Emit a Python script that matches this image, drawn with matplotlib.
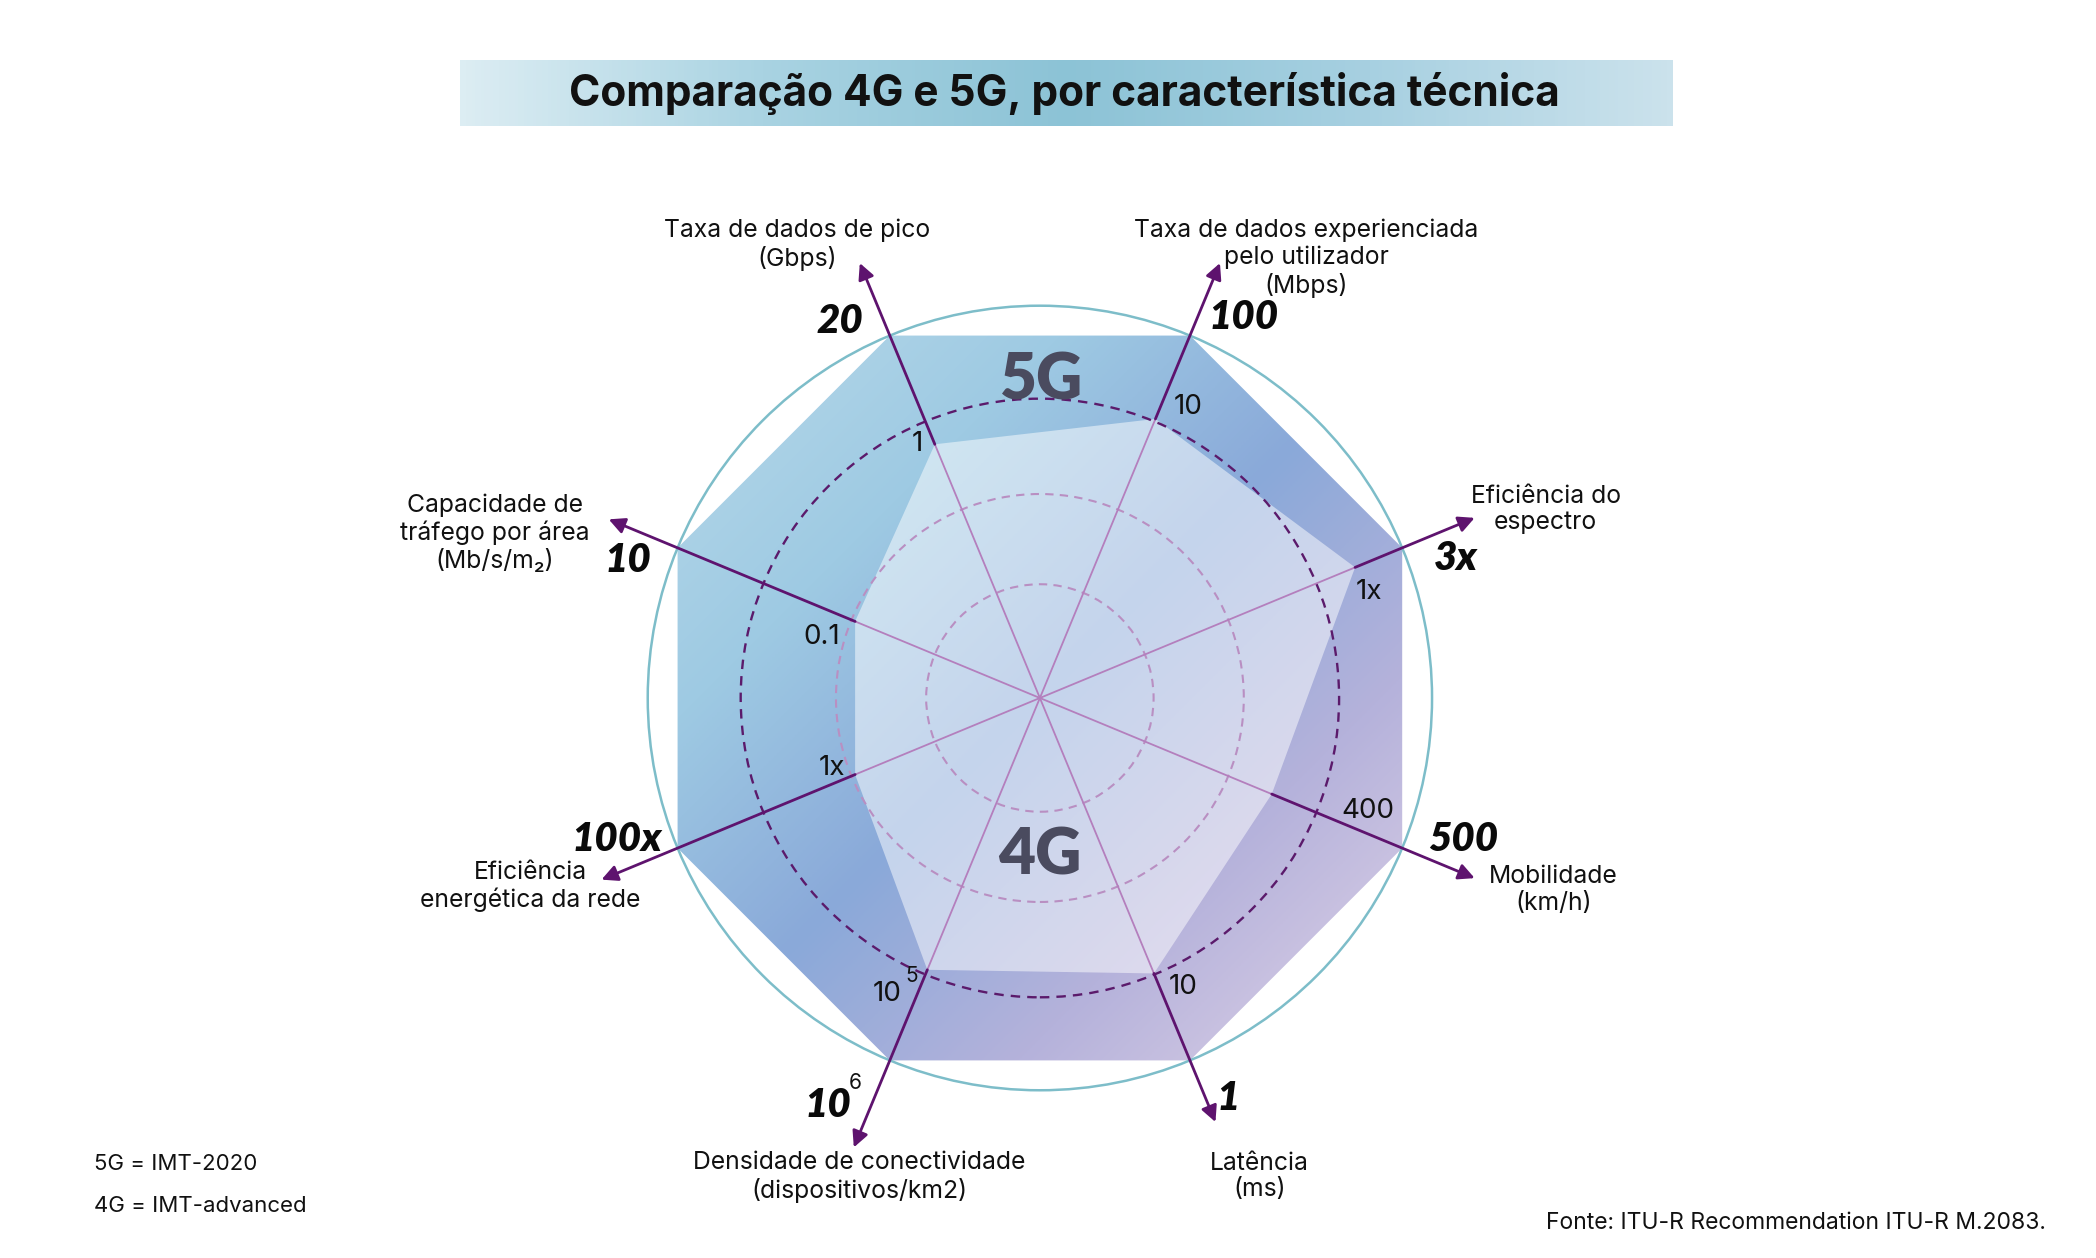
import numpy as np
import matplotlib.pyplot as plt
from matplotlib.patches import Polygon, Circle
from matplotlib.colors import LinearSegmentedColormap

plt.rcParams['font.family'] = ['Inter', 'DejaVu Sans']
NEGRITO = ['Lato', 'DejaVu Sans']

# dados (ordem: no sentido horário a partir do eixo "pico")
eixos = [
    "Taxa de dados de pico\n(Gbps)",
    "Taxa de dados experienciada\npelo utilizador\n(Mbps)",
    "Eficiência do\nespectro",
    "Mobilidade\n(km/h)",
    "Latência\n(ms)",
    "Densidade de conectividade\n(dispositivos/km2)",
    "Eficiência\nenergética da rede",
    "Capacidade de\ntráfego por área\n(Mb/s/m₂)",
]
angulos = [112.5, 67.5, 22.5, -22.5, -67.5, -112.5, -157.5, 157.5]
valores_5g = ["20", "100", "3x", "500", "1", "10", "100x", "10"]
expoente_5g = ["", "", "", "", "", "6", "", ""]
valores_4g = ["1", "10", "1x", "400", "10", "10", "1x", "0.1"]
expoente_4g = ["", "", "", "", "", "5", "", ""]
nivel_5g = [1.0, 1.0, 1.0, 1.0, 1.0, 1.0, 1.0, 1.0]
nivel_4g = [0.70, 0.77, 0.87, 0.64, 0.76, 0.75, 0.51, 0.51]
aneis = [0.29, 0.52, 0.763]

# posições dos textos (em unidades do raio)
pos_eixo = [(-0.62, 1.155), (0.68, 1.12), (1.29, 0.48), (1.31, -0.49),
            (0.56, -1.22), (-0.46, -1.22), (-1.30, -0.48), (-1.39, 0.42)]
pos_5g = [(-0.51, 0.96), (0.52, 0.97), (1.06, 0.355), (1.08, -0.36),
          (0.48, -1.02), (-0.54, -1.04), (-1.08, -0.36), (-1.05, 0.35)]
pos_4g = [(-0.313, 0.648), (0.377, 0.741), (0.84, 0.271), (0.837, -0.287),
          (0.366, -0.738), (-0.39, -0.754), (-0.529, -0.179), (-0.556, 0.156)]
comprimento_seta = [1.2, 1.2, 1.2, 1.2, 1.17, 1.24, 1.21, 1.19]

W, H = 2096, 1258
fig = plt.figure(figsize=(W / 100, H / 100), dpi=100)

# barra do título com gradiente
tax = fig.add_axes([0.2194, 0.9, 0.5787, 0.0527])
cm_tit = LinearSegmentedColormap.from_list(
    "tit", ["#dcedf3", "#a9d3e2", "#8cc3d6", "#a7d0e1", "#cbe2ec"])
tax.imshow(np.linspace(0, 1, 400)[None, :], aspect="auto", cmap=cm_tit,
           extent=[0, 1, 0, 1])
tax.axis("off")
fig.text(0.508, 0.926, "Comparação 4G e 5G, por característica técnica",
         ha="center", va="center", fontsize=30.5, fontweight="bold",
         color="#111111")

ax = fig.add_axes([0, 0, 1, 1])
ax.set_xlim(-769 / 290, (1550 - 769) / 290)
ax.set_ylim(-(930 - 516) / 290, 516 / 290)
ax.axis("off")

th = np.deg2rad(angulos)
v5 = np.column_stack([np.array(nivel_5g) * np.cos(th), np.array(nivel_5g) * np.sin(th)])
v4 = np.column_stack([np.array(nivel_4g) * np.cos(th), np.array(nivel_4g) * np.sin(th)])

# preenchimento 5G com gradiente diagonal
poly5 = Polygon(v5, closed=True, facecolor="none", edgecolor="none")
ax.add_patch(poly5)
gx, gy = np.meshgrid(np.linspace(-1, 1, 300), np.linspace(1, -1, 300))
t = (gx - gy + 2) / 4
cm_fill = LinearSegmentedColormap.from_list(
    "fill", [(0, "#bcdcea"), (0.28, "#9ecae3"), (0.5, "#8aa9d9"),
             (0.72, "#b5b2db"), (1, "#e6d8e9")])
img = ax.imshow(t, extent=[-1, 1, -1, 1], cmap=cm_fill, vmin=0, vmax=1,
                zorder=1, interpolation="bilinear", aspect="auto")
img.set_clip_path(poly5)

# 4G: véu claro
ax.add_patch(Polygon(v4, closed=True, facecolor="white", alpha=0.5,
                     edgecolor="none", zorder=2))

# círculos
ax.add_patch(Circle((0, 0), 1.0, fill=False, edgecolor="#7dbdc9", lw=1.8, zorder=3))
for i, r in enumerate(aneis):
    escuro = i == len(aneis) - 1
    ax.add_patch(Circle((0, 0), r, fill=False,
                        edgecolor="#5b1a6b" if escuro else "#b98fc2",
                        lw=1.7 if escuro else 1.5, linestyle=(0, (4, 3)),
                        zorder=3))

# eixos
for k in range(len(eixos)):
    c, s = np.cos(th[k]), np.sin(th[k])
    ax.plot([0, v4[k, 0]], [0, v4[k, 1]], color="#b47fbd", lw=1.3, zorder=4)
    L = comprimento_seta[k]
    ax.annotate("", xy=(L * c, L * s), xytext=(v4[k, 0], v4[k, 1]),
                arrowprops=dict(arrowstyle="-|>", color="#5e136e", lw=2,
                                mutation_scale=24, shrinkA=0, shrinkB=0),
                zorder=5)
    ax.text(*pos_eixo[k], eixos[k], ha="center", va="center", fontsize=17.8,
            color="#111111", linespacing=1.2, zorder=6)
    x5, y5 = pos_5g[k]
    ax.text(x5, y5, valores_5g[k], ha="center", va="center", fontsize=29,
            fontweight="heavy", fontstyle="italic", color="#0a0a0a",
            family=NEGRITO, zorder=6)
    if expoente_5g[k]:
        ax.text(x5 + 0.07, y5 + 0.058, expoente_5g[k], ha="center", va="center",
                fontsize=15, color="#111111", zorder=6)
    x4, y4 = pos_4g[k]
    ax.text(x4, y4, valores_4g[k], ha="center", va="center", fontsize=20,
            color="#111111", zorder=6)
    if expoente_4g[k]:
        ax.text(x4 + 0.062, y4 + 0.045, expoente_4g[k], ha="center", va="center",
                fontsize=15, color="#111111", zorder=6)

ax.text(0.004, 0.807, "5G", ha="center", va="center", fontsize=46,
        fontweight="heavy", color="#4a4b5f", family=NEGRITO, zorder=6)
ax.text(0.0, -0.403, "4G", ha="center", va="center", fontsize=46,
        fontweight="heavy", color="#4a4b5f", family=NEGRITO, zorder=6)

fig.text(0.045, 0.0747, "5G = IMT-2020", ha="left", va="center", fontsize=16,
         color="#111111")
fig.text(0.045, 0.0413, "4G = IMT-advanced", ha="left", va="center", fontsize=16,
         color="#111111")
fig.text(0.976, 0.028, "Fonte: ITU-R Recommendation ITU-R M.2083.", ha="right",
         va="center", fontsize=16.5, color="#111111")

fig.savefig("out.png", dpi=100)
